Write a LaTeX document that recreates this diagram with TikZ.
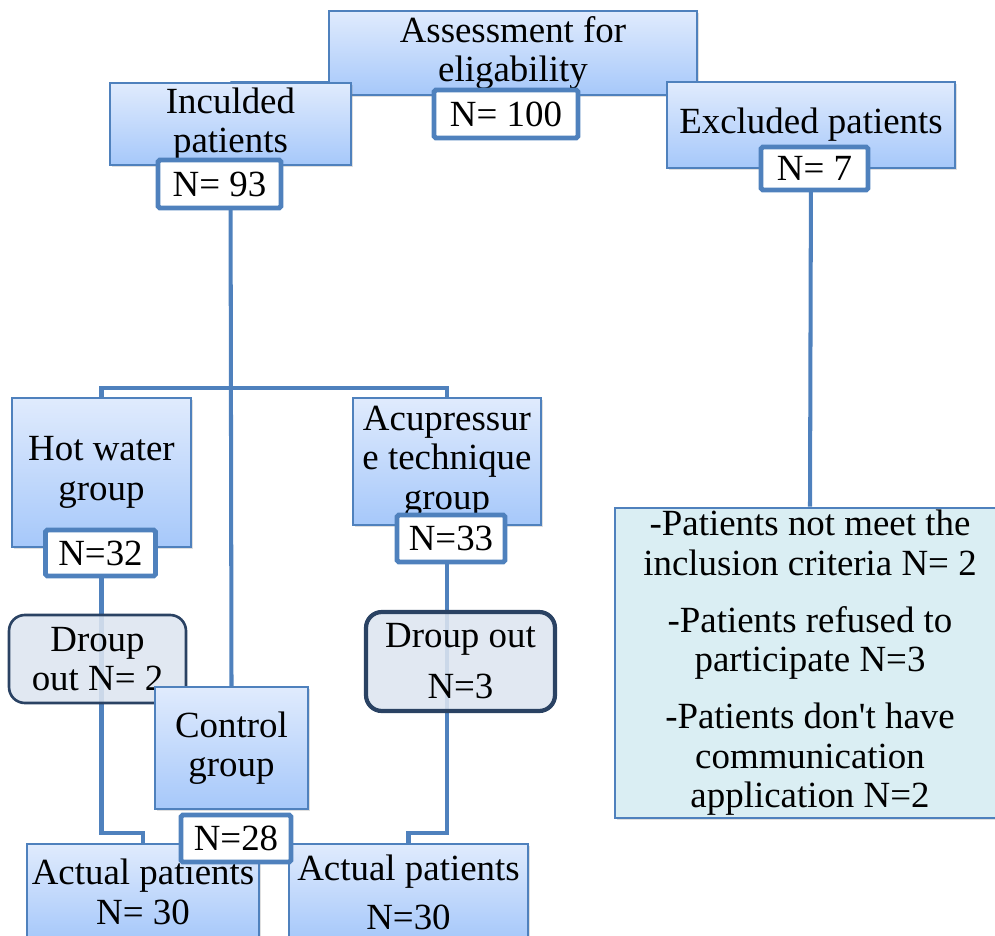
\documentclass[tikz,border=0pt]{standalone}
\usepackage{fontspec}
\setmainfont{Liberation Serif}
\usetikzlibrary{positioning, shadows, backgrounds}

\definecolor{framecol}{RGB}{79,129,189}
\definecolor{boxtop}{RGB}{224,235,253}
\definecolor{boxbot}{RGB}{166,200,250}
\definecolor{dropfill}{RGB}{221,229,240}
\definecolor{dropline}{RGB}{42,66,99}
\definecolor{notefill}{RGB}{218,238,243}

\tikzset{
  stage/.style={draw=framecol, line width=1.1pt, top color=boxtop, bottom color=boxbot,
    align=center, inner sep=0pt,
    drop shadow={shadow xshift=1.2pt, shadow yshift=-1.2pt, opacity=0.25}},
  count/.style={draw=framecol, line width=2.8pt, fill=white, rounded corners=1pt,
    align=center, inner sep=0pt},
  dropbox/.style={draw=dropline, fill=dropfill, fill opacity=0.88, text opacity=1,
    rounded corners=9pt, align=center, inner sep=0pt},
  notebox/.style={draw=framecol, line width=1.6pt, fill=notefill, align=center, inner sep=0pt,
    drop shadow={shadow xshift=1.2pt, shadow yshift=-1.2pt, opacity=0.25}},
  link/.style={draw=framecol, line width=2.3pt},
}

\begin{document}
\begin{tikzpicture}[x=0.02cm, y=-0.02cm, font=\fontsize{21}{22.5}\selectfont]
  \useasboundingbox (0,0) rectangle (995,936);
  \clip (0,0) rectangle (995,936);

  % top row
  \node[stage, minimum width=7.36cm, minimum height=1.68cm] (assess) at (513,53) {Assessment for\\eligability};
  \node[count, minimum width=2.88cm, minimum height=0.96cm] (n100) at (506,114) {N= 100};
  \node[stage, minimum width=4.82cm, minimum height=1.64cm] (incl) at (230.5,124) {Inculded\\patients};
  \node[count, minimum width=2.46cm, minimum height=0.96cm] (n93) at (219.5,184) {N= 93};
  \node[stage, minimum width=5.76cm, minimum height=1.72cm] (excl) at (811,125) {Excluded patients};
  \node[count, minimum width=2.14cm, minimum height=0.86cm] (n7) at (814.5,168.5) {N= 7};

  % groups
  \node[stage, minimum width=3.58cm, minimum height=2.98cm] (hot) at (101.5,472.5) {Hot water\\group};
  \node[count, minimum width=2.2cm, minimum height=0.92cm] (n32) at (100.5,553) {N=32};
  \node[stage, minimum width=3.76cm, minimum height=2.54cm] (acu) at (447,461.5) {Acupressur\\e technique\\group};
  \node[count, minimum width=2.16cm, minimum height=0.94cm] (n33) at (451,538.5) {N=33};

  % drop outs
  \node[dropbox, line width=1.5pt, minimum width=3.54cm, minimum height=1.76cm] (drop1) at (97.5,659) {Droup\\out N= 2};
  \node[dropbox, line width=2.4pt, minimum width=3.78cm, minimum height=1.98cm,
    font=\fontsize{21}{29}\selectfont] (drop2) at (460.5,661.5) {Droup out\\N=3};
  \node[stage, minimum width=3.06cm, minimum height=2.44cm] (ctrl) at (231.5,748) {Control\\group};

  % outcome
  \node[stage, minimum width=4.64cm, minimum height=1.92cm] (act1) at (143,892) {Actual patients\\N= 30};
  \node[stage, minimum width=4.78cm, minimum height=1.92cm,
    font=\fontsize{21}{28}\selectfont] (act2) at (408.5,892) {Actual patients\\N=30};
  \node[count, minimum width=2.2cm, minimum height=0.94cm] (n28) at (236,838.5) {N=28};

  \node[notebox, minimum width=7.8cm, minimum height=6.2cm] (reasons) at (810,663)
    {-Patients not meet the\\inclusion criteria N= 2\\[0.35cm]
     -Patients refused to\\participate N=3\\[0.35cm]
     -Patients don\textquotesingle t have\\communication\\application N=2};

  \coordinate (topbar) at (0,83);
  \coordinate (split) at (232,388);
  \coordinate (lowbar) at (0,833);

  \begin{pgfonlayer}{background}
    \draw[link] (incl.north) -- (incl.north |- topbar) -- (excl.north |- topbar) -- (excl.north);
    \draw[link] (incl.south) -- (ctrl.north);
    \draw[link] (hot.north) |- (split) -| (acu.north);
    \draw[link] (hot.south) -- (hot.south |- lowbar) -| (act1.north);
    \draw[link] (acu.south) -- (acu.south |- lowbar) -| (act2.north);
    \draw[link] (excl.south) -- (reasons.north);
  \end{pgfonlayer}
\end{tikzpicture}
\end{document}
